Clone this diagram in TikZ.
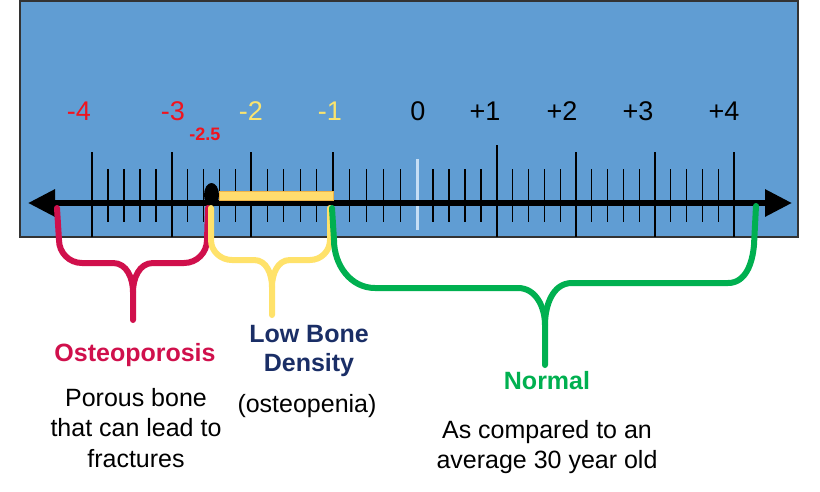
\documentclass[tikz,border=0pt]{standalone}
\usepackage{fontspec}
\setmainfont{Liberation Sans}
\usetikzlibrary{arrows.meta}
\definecolor{rulerblue}{RGB}{96,157,211}
\definecolor{zeroblue}{RGB}{197,222,245}
\definecolor{numred}{RGB}{240,20,30}
\definecolor{numyellow}{RGB}{250,228,110}
\definecolor{barfill}{RGB}{255,220,110}
\definecolor{barorange}{RGB}{240,180,70}
\definecolor{osteored}{RGB}{208,16,76}
\definecolor{lowyellow}{RGB}{255,226,106}
\definecolor{normgreen}{RGB}{0,176,80}
\definecolor{lownavy}{RGB}{26,46,102}

\begin{document}
\begin{tikzpicture}[
  x=1pt, y=-1pt,
  majortick/.style={draw=black, line width=1.2pt},
  minortick/.style={draw=black, line width=1.1pt},
  numlab/.style={font=\fontsize{27}{30}\selectfont, inner sep=0pt},
  brace/.style={line width=6pt, line cap=round, line join=round},
  head/.style={font=\fontsize{25}{29}\selectfont\bfseries, align=center, inner sep=0pt},
  note/.style={font=\fontsize{25}{30.5}\selectfont, align=center, inner sep=0pt},
  axisarr/.style={line width=6pt,
    {Triangle[length=27pt, width=26pt]}-{Triangle[length=27pt, width=26pt]}}
]
\useasboundingbox (0,0) rectangle (820,491);
\fill[white] (0,0) rectangle (820,491);

% ruler
\draw[fill=rulerblue, draw=black!80, line width=1.5pt] (20,1) rectangle (798,237);
\foreach \a/\b in {92/172, 172/251, 251/333, 333/417, 417/497, 497/576, 576/655, 655/734}
  \foreach \k in {1,...,4}
    \draw[minortick] ({\a+\k*(\b-\a)/5},169) -- ++(0,53);
\foreach \x in {92,172,251,333,576,655,734}
  \draw[majortick] (\x,152) -- (\x,237);
\draw[majortick] (497,145) -- (497,237);
\draw[zeroblue, line width=3pt] (417,159) -- (417,230);

% axis
\coordinate (lo) at (28,203);
\coordinate (hi) at (792,203);
\draw[axisarr] (lo) -- (hi);
\draw[fill=barfill, draw=barorange, line width=1pt] (219,191) rectangle (333,200);
\fill (211.5,195) ellipse [x radius=7.5pt, y radius=12pt];

% scores
\foreach \v/\x/\c [count=\i] in {-4/79/numred, -3/173/numred, -2/251/numyellow,
    -1/330/numyellow, 0/418/black, +1/485/black, +2/562/black, +3/638/black, +4/724/black}
  \node[numlab, text=\c] (num\i) at (\x,111) {\v};
\node[font=\fontsize{18}{20}\selectfont\bfseries, text=numred, inner sep=0pt] (cut) at (205,134) {-2.5};

% braces
\draw[brace, osteored] (57,208) -- (59,240) to[out=-90,in=180] (82,263) -- (113,263)
  to[out=0,in=90] (133,292) -- (133,320);
\draw[brace, osteored] (208,208) -- (207,240) to[out=-90,in=0] (184,263) -- (153,263)
  to[out=180,in=90] (133,292);
\draw[brace, lowyellow] (211,208) -- (211,240) to[out=-90,in=180] (232,260) -- (254,260)
  to[out=0,in=90] (272,287) -- (272,315);
\draw[brace, lowyellow] (330,208) -- (330,240) to[out=-90,in=0] (310,260) -- (290,260)
  to[out=180,in=90] (272,287);
\draw[brace, normgreen] (332,208) -- (334,240) to[out=-90,in=180] (375,288) -- (518,288)
  to[out=0,in=90] (545,325) -- (545,365);
\draw[brace, normgreen] (756,206) -- (754,245) to[out=-95,in=0] (728,283) -- (572,283)
  to[out=180,in=90] (545,325);

% labels
\node[head, text=osteored] (osteo) at (135,355) {Osteoporosis};
\node[note] (osteotxt) at (136,428) {Porous bone\\that can lead to\\fractures};
\node[head, text=lownavy] (low) at (309,351) {Low Bone\\Density};
\node[note] (lowtxt) at (307,406) {(osteopenia)};
\node[head, text=normgreen] (norm) at (547,381) {Normal};
\node[note] (normtxt) at (547,447) {As compared to an\\average 30 year old};
\end{tikzpicture}
\end{document}
